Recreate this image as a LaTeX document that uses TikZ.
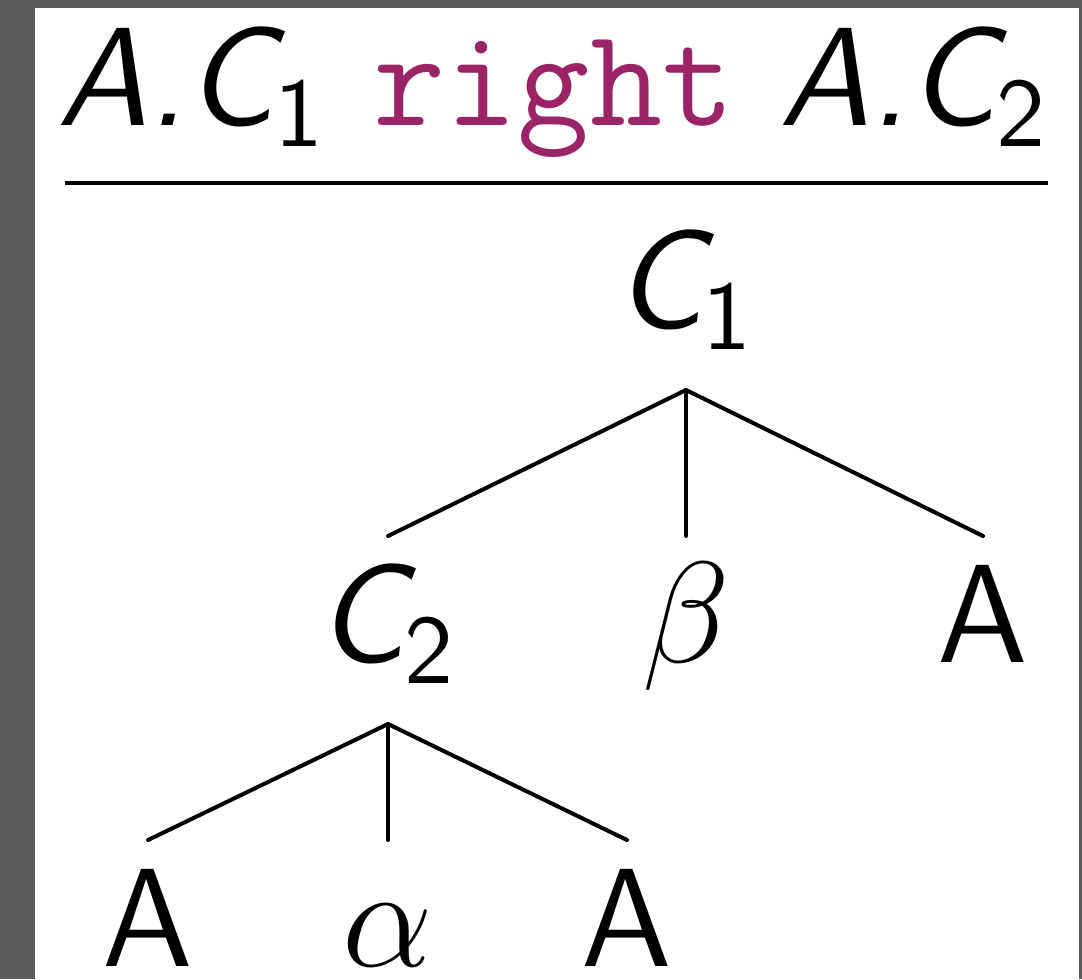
\documentclass[tikz,border=0pt]{standalone}
\usepackage{amsmath}
\usepackage{xcolor}
\usetikzlibrary{positioning}
\definecolor{framegray}{RGB}{91,91,91}
\definecolor{kwpurple}{RGB}{155,36,104}

\begin{document}
\begin{tikzpicture}[
    x=0.1pt, y=-0.1pt,
    font=\fontsize{14}{17}\selectfont\sffamily,
    tnode/.style={inner sep=0pt, anchor=base, text height=12.4pt, text depth=6pt},
    edge/.style={line width=0.4pt, line cap=round},
    rulebar/.style={line width=0.42pt},
]

    %==================== FRAME ====================
    \fill[framegray] (0,0) rectangle (1082,979);
    \fill[white] (35,8) rectangle (1079,979);
    \useasboundingbox (0,0) rectangle (1082,979);

    %==================== RULE HEADER ====================
    \node[inner sep=0pt, anchor=base] (hdr) at (554,125)
        {\itshape A.C$_{\text{\upshape 1}}$ \textcolor{kwpurple}{\ttfamily\upshape right} A.C$_{\text{\upshape 2}}$};
    \draw[rulebar] (65,183) -- (1048,183);

    %==================== TREE ====================
    \node[tnode] (c1) at (686,328) {\itshape C$_{\text{\upshape 1}}$};

    \node[tnode] (c2) at (388,662) {\itshape C$_{\text{\upshape 2}}$};
    \node[tnode] (beta) at (686,662) {$\beta$};
    \node[tnode] (a1) at (983,662) {A};

    \node[tnode] (a2) at (148,966) {A};
    \node[tnode] (alpha) at (388,966) {$\alpha$};
    \node[tnode] (a3) at (627,966) {A};

    \draw[edge] (c1.south) -- (c2.north);
    \draw[edge] (c1.south) -- (beta.north);
    \draw[edge] (c1.south) -- (a1.north);

    \draw[edge] (c2.south) -- (a2.north);
    \draw[edge] (c2.south) -- (alpha.north);
    \draw[edge] (c2.south) -- (a3.north);

\end{tikzpicture}
\end{document}
